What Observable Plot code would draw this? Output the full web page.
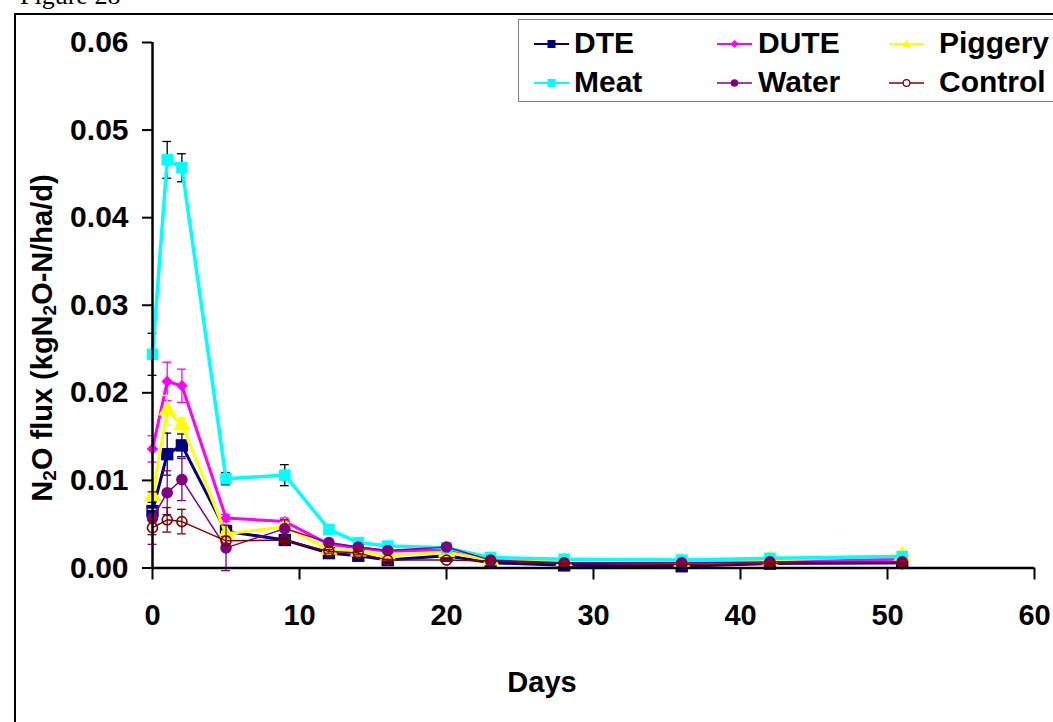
<!DOCTYPE html>
<html><head><meta charset="utf-8">
<script src="https://cdn.jsdelivr.net/npm/d3@7"></script>
<script src="https://cdn.jsdelivr.net/npm/@observablehq/plot@0.6"></script>
<style>
body{margin:0;background:#fff;}
#wrap{position:relative;width:1053px;height:722px;overflow:hidden;font-family:"Liberation Sans",Arial,sans-serif;}
#fig{position:absolute;left:20px;top:-17px;font-family:"Liberation Serif","Times New Roman",serif;font-size:26px;line-height:26px;white-space:nowrap;}
#box{position:absolute;left:14px;top:13px;width:1100px;height:800px;border:2px solid #000;}
#chart{position:absolute;left:0;top:0;}
#legend{position:absolute;left:518px;top:19px;width:600px;height:81px;border:1px solid #808080;background:#fff;}
.ls{position:absolute;height:20px;}
.lt{position:absolute;font-weight:bold;font-size:30px;line-height:36px;color:#000;white-space:nowrap;}
</style></head>
<body><div id="wrap"><div id="fig">Figure 28</div><div id="box"></div><div id="chart"></div><div id="legend"></div></div>
<script>
const days = [0, 1, 2, 5, 9, 12, 14, 16, 20, 23, 28, 36, 42, 51];
const seriesNames = ["DTE", "DUTE", "Piggery", "Meat", "Water", "Control"];

const DTE      = [0.0065, 0.0130, 0.0140, 0.0042, 0.0032, 0.0017, 0.0014, 0.0009, 0.0014, 0.0006, 0.0003, 0.0002, 0.0005, 0.0006];
const DTE_sd   = [0.0010, 0.0024, 0.0013, 0.0003, 0.0003, 0.0002, 0.0002, 0.0001, 0.0002, 0.0001, 0.0001, 0.0001, 0.0001, 0.0001];
const DUTE     = [0.0136, 0.0213, 0.0208, 0.0057, 0.0053, 0.0027, 0.0023, 0.0019, 0.0021, 0.0009, 0.0007, 0.0006, 0.0008, 0.0010];
const DUTE_sd  = [0.0015, 0.0022, 0.0019, 0.0004, 0.0004, 0.0003, 0.0002, 0.0002, 0.0002, 0.0001, 0.0001, 0.0001, 0.0001, 0.0001];
const Piggery  = [0.0082, 0.0180, 0.0163, 0.0039, 0.0047, 0.0021, 0.0019, 0.0014, 0.0018, 0.0009, 0.0008, 0.0007, 0.0009, 0.0014];
const Piggery_sd = [0.0015, 0.0017, 0.0008, 0.0003, 0.0005, 0.0002, 0.0002, 0.0002, 0.0002, 0.0001, 0.0001, 0.0001, 0.0001, 0.0002];
const Meat     = [0.0244, 0.0466, 0.0457, 0.0102, 0.0106, 0.0044, 0.0029, 0.0025, 0.0023, 0.0012, 0.0010, 0.0009, 0.0011, 0.0013];
const Meat_sd  = [0.0024, 0.0021, 0.0016, 0.0007, 0.0012, 0.0003, 0.0002, 0.0002, 0.0002, 0.0001, 0.0001, 0.0001, 0.0001, 0.0001];
const Water    = [0.0057, 0.0086, 0.0101, 0.0023, 0.0045, 0.0029, 0.0024, 0.0020, 0.0024, 0.0009, 0.0006, 0.0006, 0.0007, 0.0007];
const Water_sd = [0.0030, 0.0025, 0.0024, 0.0026, 0.0010, 0.0003, 0.0002, 0.0002, 0.0002, 0.0001, 0.0001, 0.0001, 0.0001, 0.0001];
const Control  = [0.0046, 0.0055, 0.0053, 0.0031, 0.0032, 0.0019, 0.0017, 0.0009, 0.0009, 0.0008, 0.0005, 0.0004, 0.0005, 0.0005];
const Control_sd = [0.0008, 0.0014, 0.0014, 0.0005, 0.0003, 0.0002, 0.0002, 0.0001, 0.0001, 0.0001, 0.0001, 0.0001, 0.0001, 0.0001];

const xTicks = [0, 10, 20, 30, 40, 50, 60];
const yTicks = [0, 0.01, 0.02, 0.03, 0.04, 0.05, 0.06];

const valuesBy = {DTE, DUTE, Piggery, Meat, Water, Control};
const sdBy = {DTE: DTE_sd, DUTE: DUTE_sd, Piggery: Piggery_sd, Meat: Meat_sd, Water: Water_sd, Control: Control_sd};

const style = {
  DTE:     {color: "#000080", err: "#000080", width: 3,   symbol: "square",   r: 7.0, fill: "#000080", stroke: "none"},
  DUTE:    {color: "#FF00FF", err: "#FF00FF", width: 3,   symbol: "diamond2", r: 5.2, fill: "#FF00FF", stroke: "none"},
  Piggery: {color: "#FFFF00", err: "#FFFF00", width: 3,   symbol: "triangle", r: 6.5, fill: "#FFFF00", stroke: "none"},
  Meat:    {color: "#00FFFF", err: "#000000", width: 3.5, symbol: "square",   r: 6.5, fill: "#00FFFF", stroke: "none"},
  Water:   {color: "#800080", err: "#800080", width: 1.5, symbol: "circle",   r: 5.8, fill: "#800080", stroke: "none"},
  Control: {color: "#800000", err: "#800000", width: 1.5, symbol: "circle",   r: 5.0, fill: "none",    stroke: "#800000"}
};

const capHalf = 0.3;
const marks = [];
for (const s of seriesNames) {
  const st = style[s];
  const rows = days.map((d, i) => ({day: d, value: valuesBy[s][i], sd: sdBy[s][i]}));
  marks.push(
    Plot.ruleX(rows, {x: "day", y1: d => d.value - d.sd, y2: d => d.value + d.sd, stroke: st.err, strokeWidth: 1.3}),
    Plot.ruleY(rows, {y: d => d.value + d.sd, x1: d => d.day - capHalf, x2: d => d.day + capHalf, stroke: st.err, strokeWidth: 1.3}),
    Plot.ruleY(rows, {y: d => d.value - d.sd, x1: d => d.day - capHalf, x2: d => d.day + capHalf, stroke: st.err, strokeWidth: 1.3}),
    Plot.line(rows, {x: "day", y: "value", stroke: st.color, strokeWidth: st.width}),
    Plot.dot(rows, {x: "day", y: "value", symbol: st.symbol, r: st.r, fill: st.fill, stroke: st.stroke, strokeWidth: 1.6})
  );
}

const chart = Plot.plot({
  width: 1053,
  height: 722,
  marginLeft: 152,
  marginRight: 19,
  marginTop: 42,
  marginBottom: 154.5,
  style: {fontFamily: "'Liberation Sans', Arial, sans-serif", fontSize: "29px", fontWeight: "bold", color: "#000", background: "transparent", overflow: "visible"},
  x: {domain: [0, 60]},
  y: {domain: [0, 0.06]},
  marks: [
    ...marks,
    Plot.axisY(yTicks, {tickSize: 10, tickPadding: 14, tickFormat: d3.format(".2f"), strokeWidth: 2, label: null, fontSize: 30, fontWeight: "bold"}),
    Plot.axisX(xTicks, {tickSize: 12, tickPadding: 24, tickFormat: d3.format("d"), strokeWidth: 2, label: null, fontSize: 29, fontWeight: "bold"}),
    Plot.ruleX([0], {stroke: "#000", strokeWidth: 2.5}),
    Plot.ruleY([0], {stroke: "#000", strokeWidth: 2.5})
  ]
});
document.getElementById("chart").appendChild(chart);

// axis titles
const svg = d3.select(chart);
const yl = svg.append("text")
  .attr("transform", "translate(42,338) rotate(-90)")
  .attr("text-anchor", "middle")
  .attr("dominant-baseline", "central")
  .attr("font-size", 29).attr("font-weight", "bold").attr("fill", "#000");
const parts = [["N", 0], ["2", 1], ["O flux (kgN", 0], ["2", 1], ["O-N/ha/d)", 0]];
let prevSub = 0;
for (const [t, sub] of parts) {
  const ts = yl.append("tspan").text(t);
  const shift = (sub ? 7 : 0) - (prevSub ? 7 : 0);
  if (shift) ts.attr("dy", shift);
  if (sub) ts.attr("font-size", 19);
  prevSub = sub;
}
svg.append("text").attr("x", 542).attr("y", 692).attr("text-anchor", "middle")
  .attr("font-size", 29).attr("font-weight", "bold").attr("fill", "#000").text("Days");

// legend (positions relative to the legend box)
const legend = document.getElementById("legend");
const legendSym = {DTE: [15, 14], DUTE: [198, 14], Piggery: [370, 14], Meat: [15, 53], Water: [198, 53], Control: [370, 53]};
const legendTxt = {DTE: [55, 5], DUTE: [239, 5], Piggery: [420, 5], Meat: [55, 44], Water: [239, 44], Control: [420, 44]};
function symbolSvg(s) {
  const st = style[s];
  const w = 35, h = 20, cx = 17.5, cy = 10;
  let m = "";
  if (st.symbol === "square") m = `<rect x="${cx-4}" y="${cy-4}" width="8" height="8" fill="${st.fill}"/>`;
  else if (st.symbol === "diamond2") m = `<path d="M${cx},${cy-4}L${cx+4},${cy}L${cx},${cy+4}L${cx-4},${cy}Z" fill="${st.fill}"/>`;
  else if (st.symbol === "triangle") m = `<path d="M${cx},${cy-4.5}L${cx+4.5},${cy+3.5}L${cx-4.5},${cy+3.5}Z" fill="${st.fill}"/>`;
  else if (st.fill === "none") m = `<circle cx="${cx}" cy="${cy}" r="3.3" fill="#fff" stroke="${st.stroke}" stroke-width="1.2"/>`;
  else m = `<circle cx="${cx}" cy="${cy}" r="3.8" fill="${st.fill}"/>`;
  return `<svg width="${w}" height="${h}"><line x1="0" x2="${w}" y1="${cy}" y2="${cy}" stroke="${st.color}" stroke-width="${Math.min(st.width, 2.2)}"/>${m}</svg>`;
}
for (const s of seriesNames) {
  const sy = document.createElement("div");
  sy.className = "ls";
  sy.style.left = legendSym[s][0] + "px";
  sy.style.top = legendSym[s][1] + "px";
  sy.innerHTML = symbolSvg(s);
  legend.appendChild(sy);
  const tx = document.createElement("div");
  tx.className = "lt";
  tx.style.left = legendTxt[s][0] + "px";
  tx.style.top = legendTxt[s][1] + "px";
  tx.textContent = s;
  legend.appendChild(tx);
}
</script>
</body></html>
